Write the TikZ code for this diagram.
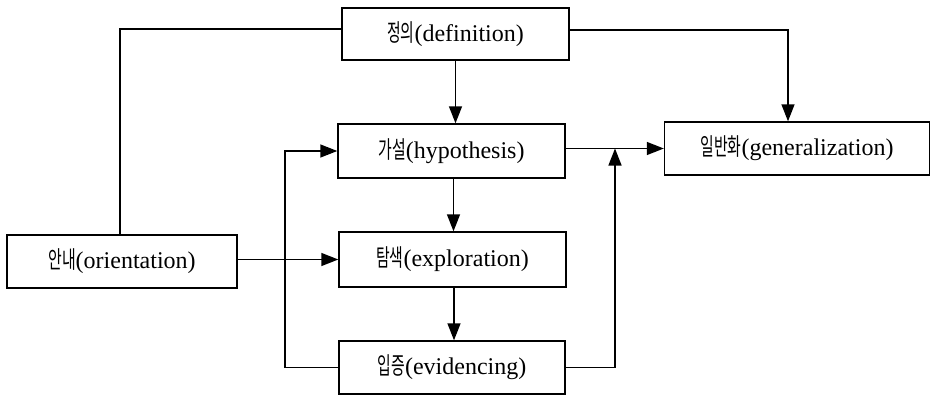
\documentclass[tikz,border=0pt]{standalone}
\usepackage{fontspec}
\setmainfont{Liberation Serif}
\newfontfamily\kr[FakeStretch=0.62]{Noto Sans CJK KR}
\usetikzlibrary{arrows.meta}
\begin{document}
\begin{tikzpicture}[x=1pt,y=-1pt,
  box/.style={draw, line width=1.4pt, inner sep=0pt, font=\fontsize{24}{28}\selectfont},
  conn/.style={line width=1.4pt},
  arr/.style={conn, -{Triangle[length=17pt,width=13pt]}}]
\useasboundingbox (0,0) rectangle (931,396);
\node[box, minimum width=227pt, minimum height=52pt] (def) at (455.5,34) {{\kr 정의}(definition)};
\node[box, minimum width=227pt, minimum height=54pt] (hyp) at (451.5,151) {{\kr 가설}(hypothesis)};
\node[box, minimum width=227pt, minimum height=55pt] (exp) at (452.5,259.5) {{\kr 탐색}(exploration)};
\node[box, minimum width=226pt, minimum height=53pt] (evi) at (452,367.5) {{\kr 입증}(evidencing)};
\node[box, minimum width=230pt, minimum height=53pt] (ori) at (122,261.5) {{\kr 안내}(orientation)};
\node[box, minimum width=265pt, minimum height=53pt] (gen) at (797,148.5) {{\kr 일반화}(generalization)};
\coordinate (lx) at (285,0);
\coordinate (rx) at (615,0);
\draw[conn] ([yshift=5pt]def.west) -| ([xshift=-2pt]ori.north);
\draw[arr] ([yshift=4pt]def.east) -| ([xshift=-9pt]gen.north);
\draw[arr] (def.south) -- (def.south |- hyp.north);
\draw[arr] ([xshift=2pt]hyp.south) -- ([xshift=2pt]hyp.south |- exp.north);
\draw[arr] ([xshift=1.5pt]exp.south) -- ([xshift=1.5pt]exp.south |- evi.north);
\draw[arr] ([yshift=2pt]ori.east) -- ([yshift=2pt]ori.east -| exp.west);
\draw[arr] (evi.west) -- (evi.west -| lx) |- (hyp.west);
\draw[arr] (evi.east) -| (rx |- gen.west);
\draw[arr] (hyp.east |- gen.west) -- (gen.west);
\end{tikzpicture}
\end{document}
